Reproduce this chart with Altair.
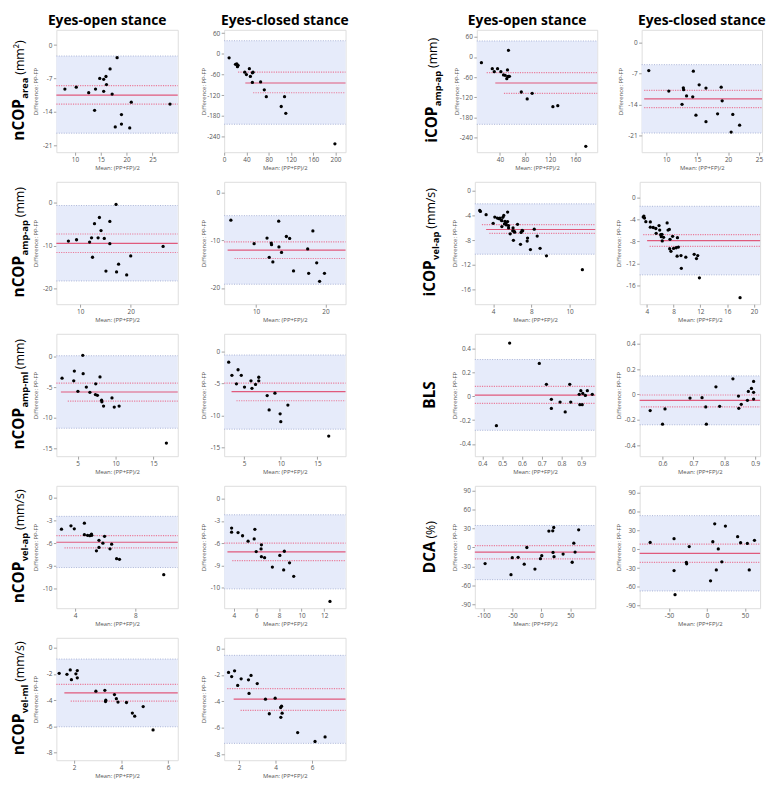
import altair as alt
import pandas as pd

FONT = "Open Sans"
BAND = "#e6ebfa"
LOA_C = "#a9b3d6"
MEAN_C = "#e05a7c"
CI_C = "#e97d9b"
FRAME_C = "#707070"
TXT_C = "#555555"

# ---------------- data (mean of methods, difference PP-FP) ----------------
AREA_EO_X = [8.05, 10.25, 12.66, 13.98, 14.8, 15.56, 15.56, 16.0, 16.1, 16.8, 17.2, 18.16, 20.9, 13.8, 17.8, 19.0, 19.0, 20.6, 28.4]
AREA_EO_Y = [-9.24, -8.84, -10.0, -9.24, -7.0, -7.2, -9.7, -6.6, -8.3, -5.0, -10.3, -2.65, -12.0, -13.7, -17.2, -14.6, -16.6, -17.4, -12.4]
AREA_EC_X = [8.9, 20.4, 22.7, 23.9, 25.0, 37.0, 40.0, 45.3, 47.1, 50.7, 51.8, 50.7, 65.5, 72.1, 75.7, 102.5, 108.4, 110.7, 198.9]
AREA_EC_Y = [-11.4, -30.3, -29.4, -37.1, -33.1, -53.1, -60.0, -42.9, -65.7, -55.1, -53.1, -82.9, -81.7, -104.6, -124.6, -153.0, -124.6, -173.0, -261.7]
AMPAP_EO_X = [7.68, 9.29, 11.87, 12.26, 12.84, 13.55, 13.81, 14.13, 14.77, 15.87, 15.87, 17.1, 12.45, 15.1, 17.2, 17.6, 19.2, 20.0, 26.4]
AMPAP_EO_Y = [-8.94, -8.64, -9.17, -8.18, -4.92, -8.18, -3.48, -6.52, -8.33, -4.39, -9.55, -0.45, -12.7, -15.9, -16.1, -14.3, -16.8, -12.4, -10.2]
AMPAP_EC_X = [6.37, 9.72, 11.58, 11.9, 12.19, 12.23, 12.42, 13.26, 13.3, 13.67, 14.37, 14.84, 15.4, 17.44, 17.58, 18.19, 18.74, 19.16, 19.86]
AMPAP_EC_Y = [-5.75, -10.68, -9.52, -13.56, -10.55, -10.89, -14.52, -5.96, -11.37, -12.53, -9.18, -9.59, -16.4, -11.78, -16.9, -8.0, -14.7, -18.6, -16.9]
AMPML_EO_X = [2.95, 4.57, 4.49, 5.04, 5.68, 5.73, 6.15, 6.62, 7.39, 7.35, 7.61, 7.95, 8.16, 8.2, 8.42, 9.53, 9.83, 10.47, 16.7]
AMPML_EO_Y = [-3.49, -2.31, -3.92, -5.65, 0.27, -2.74, -4.95, -5.81, -4.41, -6.18, -6.29, -3.28, -7.1, -7.37, -8.06, -6.72, -8.23, -8.06, -14.14]
AMPML_EC_X = [2.88, 3.32, 3.94, 4.16, 4.6, 5.04, 5.93, 6.06, 6.55, 6.99, 6.99, 8.14, 8.41, 9.2, 9.91, 10.0, 10.97, 16.55]
AMPML_EC_Y = [-1.64, -3.69, -5.03, -2.82, -3.69, -5.54, -4.56, -5.74, -5.13, -4.0, -4.56, -6.87, -9.13, -6.51, -9.74, -10.97, -8.36, -13.23]
VELAP_EO_X = [3.09, 3.72, 3.94, 4.61, 4.61, 4.82, 4.97, 5.1, 5.08, 5.41, 5.58, 5.58, 5.84, 5.95, 6.31, 6.42, 6.75, 6.94, 9.88]
VELAP_EO_Y = [-4.12, -3.68, -4.07, -3.34, -4.85, -4.94, -4.98, -4.94, -4.77, -6.98, -5.59, -6.54, -5.98, -5.07, -6.72, -6.11, -8.02, -8.1, -10.14]
VELAP_EC_X = [3.8, 3.8, 4.37, 4.77, 5.26, 5.86, 5.8, 5.98, 6.41, 6.44, 6.44, 6.72, 7.41, 8.07, 8.47, 8.41, 8.93, 9.3, 12.51]
VELAP_EC_Y = [-3.96, -4.52, -4.57, -5.0, -5.74, -4.13, -5.43, -7.13, -6.78, -6.22, -7.83, -7.96, -9.22, -7.65, -7.09, -9.61, -8.65, -10.48, -13.87]
VELML_EO_X = [1.37, 1.7, 1.84, 1.89, 2.08, 2.14, 2.14, 2.93, 3.31, 3.34, 3.35, 3.72, 3.8, 3.87, 4.23, 4.48, 4.58, 4.94, 5.36]
VELML_EO_Y = [-1.95, -2.02, -1.69, -2.43, -1.98, -1.74, -2.29, -3.31, -3.24, -4.1, -4.0, -3.57, -3.88, -4.14, -4.17, -4.98, -5.21, -4.48, -6.26]
VELML_EC_X = [1.43, 1.6, 1.76, 1.93, 2.12, 2.52, 2.55, 2.66, 3.0, 3.45, 3.66, 3.98, 4.28, 4.29, 4.33, 4.36, 5.21, 6.16, 6.71]
VELML_EC_Y = [-1.82, -2.13, -1.7, -2.8, -2.3, -2.37, -3.4, -2.04, -2.66, -3.83, -4.93, -3.76, -4.46, -5.2, -4.36, -4.89, -6.35, -7.02, -6.68]
I_AMPAP_EO_X = [10.6, 27.9, 31.1, 36.3, 41.6, 45.8, 48.4, 52.1, 51.0, 52.6, 53.6, 55.2, 53.6, 74.1, 83.5, 91.4, 124.4, 132.2, 176.8]
I_AMPAP_EO_Y = [-16.9, -34.8, -43.7, -34.8, -43.7, -53.6, -54.6, -38.7, -64.5, -58.6, -57.6, -57.6, 19.9, -104.3, -125.1, -108.2, -148.0, -145.0, -266.1]
I_AMPAP_EC_X = [7.18, 10.42, 12.77, 12.82, 13.29, 12.56, 14.29, 14.39, 15.33, 14.81, 16.43, 16.43, 18.89, 19.05, 18.31, 20.77, 20.5, 21.87]
I_AMPAP_EC_Y = [-6.35, -10.94, -10.21, -10.65, -12.04, -13.93, -12.25, -6.49, -9.56, -16.34, -10.28, -17.8, -10.07, -13.13, -16.05, -16.19, -20.13, -18.6]
I_VELAP_EO_X = [2.59, 2.66, 3.26, 4.0, 4.17, 4.44, 4.61, 4.71, 4.84, 4.91, 4.91, 5.01, 5.11, 5.18, 5.24, 5.31, 5.38, 5.51, 5.51, 5.61,
                5.61, 5.78, 6.05, 6.08, 6.12, 6.18, 6.25, 6.55, 6.86, 6.92, 7.03, 7.09, 7.56, 7.6, 8.3, 8.61, 7.9, 8.91, 9.58, 13.34]
I_VELAP_EO_Y = [-3.2, -3.36, -3.89, -5.28, -4.27, -4.43, -4.53, -4.43, -4.75, -4.85, -5.81, -4.32, -4.0, -5.39, -4.96, -5.28, -5.55, -5.01, -3.47, -5.65,
                -6.03, -6.99, -6.51, -6.03, -8.05, -6.56, -6.72, -5.44, -8.69, -6.77, -6.45, -6.51, -8.16, -7.68, -6.24, -7.36, -9.55, -9.33, -10.56, -12.8]
I_VELAP_EC_X = [3.47, 3.57, 3.66, 3.86, 4.53, 4.53, 4.96, 5.35, 5.4, 5.83, 5.93, 6.07, 6.17, 6.27, 6.31, 6.51, 7.04, 7.18, 7.37, 7.47,
                7.42, 7.61, 7.86, 8.0, 8.39, 8.58, 8.53, 8.72, 9.11, 9.83, 9.16, 11.08, 11.42, 11.61, 11.86, 17.93]
I_VELAP_EC_Y = [-3.6, -3.42, -3.78, -4.43, -4.49, -5.43, -5.49, -5.67, -6.55, -5.14, -5.96, -6.79, -7.14, -6.73, -7.91, -7.26, -4.66, -5.96, -5.84, -7.62,
                -9.33, -9.8, -7.08, -9.27, -9.15, -7.32, -10.68, -9.03, -10.57, -10.86, -12.87, -10.33, -11.1, -10.57, -14.58, -18.18]
BLS_EO_X = [0.471, 0.538, 0.688, 0.724, 0.749, 0.749, 0.793, 0.819, 0.842, 0.847, 0.89, 0.893, 0.898, 0.905, 0.908, 0.921, 0.931, 0.956]
BLS_EO_Y = [-0.246, 0.448, 0.277, 0.101, -0.025, -0.101, -0.048, -0.131, 0.101, -0.048, 0.017, -0.07, 0.048, -0.07, 0.025, 0.008, 0.048, 0.017]
BLS_EC_X = [0.56, 0.6, 0.608, 0.689, 0.728, 0.74, 0.742, 0.773, 0.785, 0.828, 0.846, 0.847, 0.855, 0.875, 0.878, 0.888, 0.895, 0.895, 0.895]
BLS_EC_Y = [-0.128, -0.235, -0.115, -0.029, -0.026, -0.099, -0.235, 0.06, -0.094, 0.123, -0.013, -0.11, -0.078, -0.047, 0.023, 0.047, 0.102, 0.016, -0.037]
DCA_EO_X = [-97.4, -52.6, -50.4, -40.3, -29.7, -25.2, -11.2, -1.7, 0.6, 12.9, 19.6, 21.3, 20.1, 21.8, 37.5, 53.2, 56.0, 58.2, 64.4]
DCA_EO_Y = [-25.5, -43.2, -16.1, -15.6, -26.5, 0.0, -34.3, -17.7, -13.0, 26.0, 26.5, 31.7, -7.8, -14.6, -10.4, -23.4, 6.8, -7.3, 28.1]
DCA_EC_X = [-74.9, -43.4, -43.4, -42.1, -27.2, -26.8, -23.4, 4.7, 7.7, 10.2, 12.3, 14.9, 19.6, 24.3, 40.4, 44.3, 53.2, 55.7, 62.6]
DCA_EC_Y = [10.8, 16.8, -34.1, -72.4, -21.1, -23.2, 4.3, -50.3, 11.9, 40.5, -33.0, 0.5, -20.0, 36.8, 20.0, 10.3, 9.2, -33.0, 14.1]

# limits of agreement [upper, lower]; mean / upper CI / lower CI as [value, x where line starts]
PANELS = {
    "AREA_EO": dict(x=AREA_EO_X, y=AREA_EO_Y, xd=[6.4, 29.9], yd=[-22.5, 3.2], xt=[10, 15, 20, 25], yt=[0, -7, -14, -21],
                    loa=[-2.3, -18.5], mean=[-10.5, 6.4], ucl=[-8.5, 6.4], lcl=[-12.4, 6.4]),
    "AREA_EC": dict(x=AREA_EC_X, y=AREA_EC_Y, xd=[0, 218], yd=[-286, 70], xt=[0, 40, 80, 120, 160, 200], yt=[60, 0, -60, -120, -180, -240],
                    loa=[38.3, -204.6], mean=[-84.6, 38], ucl=[-53.1, 25], lcl=[-113, 52]),
    "AMPAP_EO": dict(x=AMPAP_EO_X, y=AMPAP_EO_Y, xd=[5.3, 29.3], yd=[-23.6, 4.8], xt=[10, 20], yt=[0, -10, -20],
                     loa=[-0.7, -18.2], mean=[-9.5, 5.3], ucl=[-7.3, 5.3], lcl=[-11.6, 5.3]),
    "AMPAP_EC": dict(x=AMPAP_EC_X, y=AMPAP_EC_Y, xd=[5.4, 22.9], yd=[-23.4, 2.3], xt=[10, 20], yt=[0, -10, -20],
                     loa=[-4.8, -19.2], mean=[-12.05, 5.9], ucl=[-10.3, 5.4], lcl=[-13.8, 6.9]),
    "AMPML_EO": dict(x=AMPML_EO_X, y=AMPML_EO_Y, xd=[2.2, 18.2], yd=[-16.3, 3.8], xt=[5, 10, 15], yt=[0, -5, -10, -15],
                     loa=[0.2, -11.7], mean=[-5.75, 2.8], ucl=[-4.3, 2.2], lcl=[-7.26, 3.7]),
    "AMPML_EC": dict(x=AMPML_EC_X, y=AMPML_EC_Y, xd=[2.26, 18.85], yd=[-16.4, 2.82], xt=[5, 10, 15], yt=[0, -5, -10, -15],
                     loa=[-0.51, -12.15], mean=[-6.26, 3.27], ucl=[-4.92, 2.26], lcl=[-7.69, 3.94]),
    "VELAP_EO": dict(x=VELAP_EO_X, y=VELAP_EO_Y, xd=[2.75, 10.81], yd=[-14.56, 1.6], xt=[4, 8], yt=[0, -3, -6, -9, -12],
                     loa=[-2.43, -9.19], mean=[-5.85, 2.75], ucl=[-4.98, 2.75], lcl=[-6.59, 3.29]),
    "VELAP_EC": dict(x=VELAP_EC_X, y=VELAP_EC_Y, xd=[3.14, 13.89], yd=[-14.78, 1.74], xt=[4, 6, 8, 10, 12], yt=[0, -3, -6, -9, -12],
                     loa=[-2.17, -12.17], mean=[-7.17, 3.43], ucl=[-6.0, 3.14], lcl=[-8.35, 3.86]),
    "VELML_EO": dict(x=VELML_EO_X, y=VELML_EO_Y, xd=[1.25, 6.41], yd=[-8.57, 0.76], xt=[2, 4, 6], yt=[0, -2, -4, -6, -8],
                     loa=[-0.86, -6.02], mean=[-3.43, 1.59], ucl=[-2.79, 1.25], lcl=[-4.07, 1.86]),
    "VELML_EC": dict(x=VELML_EC_X, y=VELML_EC_Y, xd=[1.19, 7.83], yd=[-8.43, 0.79], xt=[2, 4, 6], yt=[0, -2, -4, -6, -8],
                     loa=[-0.53, -7.16], mean=[-3.83, 1.71], ucl=[-3.04, 1.36], lcl=[-4.67, 2.09]),
    "I_AMPAP_EO": dict(x=I_AMPAP_EO_X, y=I_AMPAP_EO_Y, xd=[3.3, 195], yd=[-283.7, 80.9], xt=[40, 80, 120, 160], yt=[60, 0, -60, -120, -180, -240],
                       loa=[47.7, -200.6], mean=[-77.5, 32.7], ucl=[-46.7, 19], lcl=[-108.3, 46.5]),
    "I_AMPAP_EC": dict(x=I_AMPAP_EC_X, y=I_AMPAP_EC_Y, xd=[6.03, 25.5], yd=[-24.65, 2.77], xt=[10, 15, 20, 25], yt=[0, -7, -14, -21],
                       loa=[-5.03, -20.35], mean=[-12.69, 6.44], ucl=[-10.8, 6.44], lcl=[-14.66, 6.44]),
    "I_VELAP_EO": dict(x=I_VELAP_EO_X, y=I_VELAP_EO_Y, xd=[2.08, 14.69], yd=[-18.4, 1.44], xt=[4, 8, 12], yt=[0, -4, -8, -12, -16],
                       loa=[-2.13, -10.29], mean=[-6.29, 3.26], ucl=[-5.49, 2.82], lcl=[-6.93, 3.6]),
    "I_VELAP_EC": dict(x=I_VELAP_EC_X, y=I_VELAP_EC_Y, xd=[2.94, 20.92], yd=[-19.36, 2.77], xt=[4, 8, 12, 16, 20], yt=[0, -4, -8, -12, -16],
                       loa=[-1.65, -14.05], mean=[-7.85, 4.05], ucl=[-6.79, 3.47], lcl=[-8.91, 4.43]),
    "BLS_EO": dict(x=BLS_EO_X, y=BLS_EO_Y, xd=[0.362, 0.971], yd=[-0.503, 0.526], xt=[0.4, 0.5, 0.6, 0.7, 0.8, 0.9], yt=[0.4, 0.2, 0, -0.2, -0.4],
                   loa=[0.31, -0.285], mean=[0.011, 0.362], ucl=[0.084, 0.362], lcl=[-0.059, 0.362]),
    "BLS_EC": dict(x=BLS_EC_X, y=BLS_EC_Y, xd=[0.526, 0.916], yd=[-0.488, 0.478], xt=[0.6, 0.7, 0.8, 0.9], yt=[0.4, 0.2, 0, -0.2, -0.4],
                   loa=[0.146, -0.24], mean=[-0.047, 0.526], ucl=[-0.005, 0.526], lcl=[-0.099, 0.531]),
    "DCA_EO": dict(x=DCA_EO_X, y=DCA_EO_Y, xd=[-115.1, 93.1], yd=[-96.3, 97.8], xt=[-100, -50, 0, 50], yt=[90, 60, 30, 0, -30, -60, -90],
                   loa=[34.9, -51], mean=[-7.3, -115.1], ucl=[3.1, -115.1], lcl=[-18.2, -115.1]),
    "DCA_EC": dict(x=DCA_EC_X, y=DCA_EC_Y, xd=[-88.7, 70], yd=[-94, 101], xt=[-50, 0, 50], yt=[90, 60, 30, 0, -30, -60, -90],
                   loa=[53.5, -66.5], mean=[-6.5, -88.7], ucl=[8.1, -88.7], lcl=[-21.1, -88.7]),
}

LEFT_ROWS = [
    (("nCOP", "area", "(mm²)"), "AREA_EO", "AREA_EC"),
    (("nCOP", "amp-ap", "(mm)"), "AMPAP_EO", "AMPAP_EC"),
    (("nCOP", "amp-ml", "(mm)"), "AMPML_EO", "AMPML_EC"),
    (("nCOP", "vel-ap", "(mm/s)"), "VELAP_EO", "VELAP_EC"),
    (("nCOP", "vel-ml", "(mm/s)"), "VELML_EO", "VELML_EC"),
]
RIGHT_ROWS = [
    (("iCOP", "amp-ap", "(mm)"), "I_AMPAP_EO", "I_AMPAP_EC"),
    (("iCOP", "vel-ap", "(mm/s)"), "I_VELAP_EO", "I_VELAP_EC"),
    (("BLS", "", ""), "BLS_EO", "BLS_EC"),
    (("DCA", "", "(%)"), "DCA_EO", "DCA_EC"),
]
COL_TITLES = ["Eyes-open stance", "Eyes-closed stance"]

# --------------- helpers ---------------
BOLD_W = {'n': .652, 'C': .631, 'O': .80, 'P': .627, 'i': .30, 'B': .68, 'L': .55, 'S': .55, 'D': .73, 'A': .71,
          'a': .60, 'r': .45, 'e': .59, 'm': .96, 'p': .64, '-': .32, 'l': .30, 'v': .57, 's': .50}
REG_W = {'(': .30, ')': .30, 'm': .86, '/': .37, 's': .48, '%': .83, '²': .38, ' ': .26}
MAIN_FS, SUB_FS, UNIT_FS = 15.5, 9.5, 12.5
MINUS = "replace(datum.label, '\u2212', '-')"


def tw(s, table, fs):
    return sum(table.get(c, .6) for c in s) * fs


def label_chart(parts, w, h, bx):
    main, sub, unit = parts
    segs = [(main, MAIN_FS, "bold", 0, 0)]
    if sub:
        segs.append((sub, SUB_FS, "bold", 4, 0.5))
    if unit:
        segs.append((unit, UNIT_FS, "normal", 0, 3))
    total, offs = 0.0, []
    for t, fs, wt, dy, gap in segs:
        total += gap
        offs.append(total)
        total += tw(t, BOLD_W if wt == "bold" else REG_W, fs)
    start = -total / 2
    layers = []
    for (t, fs, wt, dy, gap), o in zip(segs, offs):
        layers.append(
            alt.Chart(pd.DataFrame({"t": [t]}))
            .mark_text(angle=270, align="left", baseline="alphabetic", font=FONT, fontSize=fs,
                       fontWeight=wt, dx=start + o, dy=dy, color="black")
            .encode(text="t:N", x=alt.value(bx), y=alt.value(h / 2))
        )
    return alt.layer(*layers).properties(width=w, height=h, view=alt.ViewBackground(strokeOpacity=0))


def panel(key, w, h, title=None, tdx=0):
    p = PANELS[key]
    xlo, xhi = p["xd"]
    ylo, yhi = p["yd"]
    xs = alt.Scale(domain=[xlo, xhi], nice=False, zero=False)
    ys = alt.Scale(domain=[ylo, yhi], nice=False, zero=False)
    common = dict(grid=False, domain=False, tickSize=3, tickColor="#8a8a8a", tickWidth=0.8,
                  labelFont=FONT, labelFontSize=6.5, labelColor=TXT_C, labelExpr=MINUS, format="~r",
                  labelOverlap=False, labelFlush=False,
                  titleFont=FONT, titleFontSize=6, titleFontWeight="normal", titleColor=TXT_C)
    xax = alt.Axis(values=p["xt"], title="Mean: (PP+FP)/2", labelPadding=1.5, titlePadding=2, **common)
    yax = alt.Axis(values=p["yt"], title="Difference: PP-FP", labelPadding=1.5, titlePadding=1,
                   minExtent=17, maxExtent=17, **common)

    band_df = pd.DataFrame({"x1": [xlo], "x2": [xhi], "y1": [p["loa"][0]], "y2": [p["loa"][1]]})
    band = alt.Chart(band_df).mark_rect(color=BAND).encode(
        x=alt.X("x1:Q", scale=xs, axis=xax), x2="x2:Q",
        y=alt.Y("y1:Q", scale=ys, axis=yax), y2="y2:Q")

    loa_df = pd.DataFrame({"x1": [xlo, xlo], "x2": [xhi, xhi], "y": p["loa"]})
    loa = alt.Chart(loa_df).mark_rule(color=LOA_C, strokeDash=[1, 1.5], strokeWidth=1).encode(
        x=alt.X("x1:Q", scale=xs, axis=xax), x2="x2:Q", y=alt.Y("y:Q", scale=ys, axis=yax))

    mean_df = pd.DataFrame({"x1": [p["mean"][1]], "x2": [xhi], "y": [p["mean"][0]]})
    mean = alt.Chart(mean_df).mark_rule(color=MEAN_C, strokeWidth=1.2).encode(
        x=alt.X("x1:Q", scale=xs, axis=xax), x2="x2:Q", y=alt.Y("y:Q", scale=ys, axis=yax))

    ci_df = pd.DataFrame({"x1": [p["ucl"][1], p["lcl"][1]], "x2": [xhi, xhi], "y": [p["ucl"][0], p["lcl"][0]]})
    ci = alt.Chart(ci_df).mark_rule(color=CI_C, strokeDash=[1.2, 1.2], strokeWidth=1.2).encode(
        x=alt.X("x1:Q", scale=xs, axis=xax), x2="x2:Q", y=alt.Y("y:Q", scale=ys, axis=yax))

    pts_df = pd.DataFrame({"m": p["x"], "d": p["y"]})
    pts = alt.Chart(pts_df).mark_circle(size=11, color="black", opacity=1).encode(
        x=alt.X("m:Q", scale=xs, axis=xax), y=alt.Y("d:Q", scale=ys, axis=yax))

    ch = alt.layer(band, loa, mean, ci, pts).properties(width=w, height=h)
    if title:
        ch = ch.properties(title=alt.TitleParams(title, font=FONT, fontSize=14, fontWeight="bold",
                                                 color="black", anchor="middle", dx=tdx, offset=2))
    return ch


PW_L, PW_R, H = 123, 122, 124
rows = []
for r in range(5):
    lab, ka, kb = LEFT_ROWS[r]
    t0 = COL_TITLES[0] if r == 0 else None
    t1 = COL_TITLES[1] if r == 0 else None
    ab = alt.hconcat(panel(ka, PW_L, H, t0, -10), panel(kb, PW_L, H, t1, 0), spacing=20)
    items = [label_chart(lab, 24, H, 16), ab]
    if r < 4:
        labr, kc, kd = RIGHT_ROWS[r]
        cd = alt.hconcat(panel(kc, PW_R, H, t0, -10), panel(kd, PW_R, H, t1, 0), spacing=18)
        items += [label_chart(labr, 104, H, 89), cd]
    rows.append(alt.hconcat(*items, spacing=0))

chart = (
    alt.vconcat(*rows, spacing=9)
    .properties(padding=0)
    .configure_view(stroke=FRAME_C, strokeWidth=1.3)
    .configure(font=FONT)
)

chart.save("out.html", embed_options={"renderer": "svg", "actions": False})
